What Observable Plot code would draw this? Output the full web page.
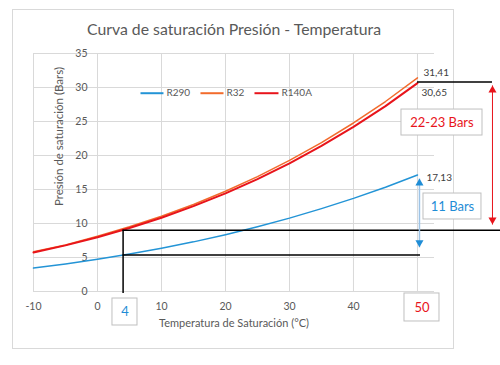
<!DOCTYPE html>
<html><head><meta charset="utf-8">
<script src="https://cdn.jsdelivr.net/npm/d3@7"></script>
<script src="https://cdn.jsdelivr.net/npm/@observablehq/plot@0.6"></script>
<style>body{margin:0;background:#fff;} #chart{width:500px;height:365px;}</style>
</head><body><div id="chart"></div>
<script>
// ---- data ----
const temps = [-10, -5, 0, 5, 10, 15, 20, 25, 30, 35, 40, 45, 50];
const r290  = [3.45, 4.06, 4.74, 5.51, 6.36, 7.30, 8.36, 9.52, 10.79, 12.19, 13.70, 15.34, 17.13];
const r32   = [5.83, 6.85, 8.13, 9.51, 11.07, 12.80, 14.75, 16.90, 19.28, 21.90, 24.78, 27.94, 31.41];
const r410a = [5.73, 6.78, 7.98, 9.33, 10.85, 12.55, 14.44, 16.53, 18.85, 21.40, 24.20, 27.26, 30.65];
const seriesNames = ["R290", "R32", "R140A"];
const seriesValues = [r290, r32, r410a];
const xTicks = [-10, 0, 10, 20, 30, 40, 50];
const xTickLabels = ["-10", "0", "10", "20", "30", "40", ""]; // 50 is shown in the boxed label
const yTicks = [0, 5, 10, 15, 20, 25, 30, 35];
const endLabels = ["31,41", "30,65", "17,13"];
const titleText = "Curva de saturación Presión - Temperatura";
const xTitle = "Temperatura de Saturación (°C)";
const yTitle = "Presión de saturación (Bars)";
const refTemp = 4, hotTemp = 50;
const p4High = 9.0, p4Low = 5.35;

// ---- styles ----
const colors = ["#2394d6", "#f26b2c", "#e8141b"];
const widths = [1.5, 1.5, 2];
const gray = "#595959", grid = "#d9d9d9", red = "#e8141b", blue = "#1f8dd6";

const rows = [];
seriesNames.forEach((s, i) => temps.forEach((t, j) => rows.push({s, t, p: seriesValues[i][j]})));

const legend = seriesNames.map((s, i) => ({s, x1: [6.72, 16.09, 24.53][i], x2: [10.31, 19.69, 28.28][i], y: 29.16, color: colors[i]}));

const xMax = 52.66;
const marks = [
  Plot.frame({stroke: grid, insetLeft: -21, insetTop: -44, insetRight: -19, insetBottom: -57}),
  Plot.ruleX(xTicks, {y1: 0, y2: 35, stroke: grid}),
  Plot.ruleY(yTicks, {x1: -10, x2: xMax, stroke: grid}),
  Plot.text(yTicks, {x: 0, y: d => d, dx: -10, textAnchor: "end", fill: gray, fontSize: 10.5}),
  Plot.text(xTicks, {x: d => d, y: 0, text: (d, i) => xTickLabels[i], dy: 15, fill: gray, fontSize: 10.5}),
  Plot.text([titleText], {frameAnchor: "top", lineAnchor: "middle", dy: -24, fill: gray, fontSize: 15.8}),
  Plot.text([xTitle], {frameAnchor: "bottom", lineAnchor: "middle", dy: 32, fill: gray, fontSize: 11}),
  Plot.text([yTitle], {frameAnchor: "left", textAnchor: "middle", lineAnchor: "middle", dx: 26, dy: -36, rotate: -90, fill: gray, fontSize: 11.5}),
];
seriesNames.forEach((s, i) => {
  marks.push(Plot.line(rows.filter(d => d.s === s), {x: "t", y: "p", stroke: colors[i], strokeWidth: widths[i]}));
});
marks.push(
  Plot.link(legend, {x1: "x1", x2: "x2", y1: "y", y2: "y", stroke: "color", strokeWidth: 2}),
  Plot.text(legend, {x: "x2", y: "y", text: "s", dx: 3, textAnchor: "start", fill: gray, fontSize: 10}),
  // reference lines
  Plot.ruleX([refTemp], {y1: p4High, y2: -0.3, stroke: "#000", strokeWidth: 1.5}),
  Plot.ruleY([p4High], {x1: refTemp, x2: 63, stroke: "#000", strokeWidth: 1.5}),
  Plot.ruleY([p4Low], {x1: refTemp, x2: 50.47, stroke: "#000", strokeWidth: 1.5}),
  Plot.ruleY([30.8], {x1: hotTemp, x2: 61.72, stroke: "#000", strokeWidth: 1.5}),
  // red arrow
  Plot.link([0], {x1: 61.72, x2: 61.72, y1: 30.3, y2: 9.85, stroke: red, strokeWidth: 1}),
  Plot.dot([30.3], {x: 61.72, y: d => d, symbol: "triangle", r: 3, fill: red, stroke: null, dy: 4.6}),
  Plot.dot([9.85], {x: 61.72, y: d => d, symbol: "triangle", r: 3, fill: red, stroke: null, dy: -4.6, rotate: 180}),
  // blue arrow
  Plot.link([0], {x1: 50.31, x2: 50.31, y1: 16.6, y2: 6.5, stroke: "#9dc3e6", strokeWidth: 1.5}),
  Plot.dot([16.6], {x: 50.31, y: d => d, symbol: "triangle", r: 3, fill: blue, stroke: null, dy: 4.6}),
  Plot.dot([6.5], {x: 50.31, y: d => d, symbol: "triangle", r: 3, fill: blue, stroke: null, dy: -4.6, rotate: 180}),
  // end value labels
  Plot.text([endLabels[0]], {x: hotTemp, y: r32[12], dx: 6, dy: -5, textAnchor: "start", fill: "#404040", fontSize: 10}),
  Plot.text([endLabels[1]], {x: hotTemp, y: r410a[12], dx: 4, dy: 10, textAnchor: "start", fill: "#404040", fontSize: 10}),
  Plot.text([endLabels[2]], {x: hotTemp, y: r290[12], dx: 9, dy: 3, textAnchor: "start", fill: "#404040", fontSize: 10}),
  // boxes
  Plot.rect([0], {x1: 47.5, x2: 60.16, y1: 22.94, y2: 26.76, fill: "white", stroke: "#bfbfbf"}),
  Plot.text(["22-23 Bars"], {x: 53.83, y: 24.85, fill: red, fontSize: 13}),
  Plot.rect([0], {x1: 50.94, x2: 60.0, y1: 10.59, y2: 14.41, fill: "white", stroke: "#bfbfbf"}),
  Plot.text(["11 Bars"], {x: 55.47, y: 12.5, fill: blue, fontSize: 13}),
  Plot.rect([0], {x1: 2.34, x2: 6.25, y1: -1.03, y2: -5.0, fill: "white", stroke: "#bfbfbf"}),
  Plot.text([String(refTemp)], {x: 4.3, y: -3.0, fill: blue, fontSize: 13}),
  Plot.rect([0], {x1: 47.97, x2: 53.44, y1: -0.29, y2: -4.41, fill: "white", stroke: "#bfbfbf"}),
  Plot.text([String(hotTemp)], {x: 50.7, y: -2.35, fill: red, fontSize: 13})
);

const chart = Plot.plot({
  width: 500, height: 365,
  marginLeft: 33, marginRight: 66, marginTop: 53, marginBottom: 74,
  x: {domain: [-10, xMax], axis: null},
  y: {domain: [0, 35], axis: null},
  style: {fontFamily: "Lato, sans-serif", background: "#fff", overflow: "visible"},
  marks
});
document.getElementById("chart").append(chart);
</script>
</body></html>
